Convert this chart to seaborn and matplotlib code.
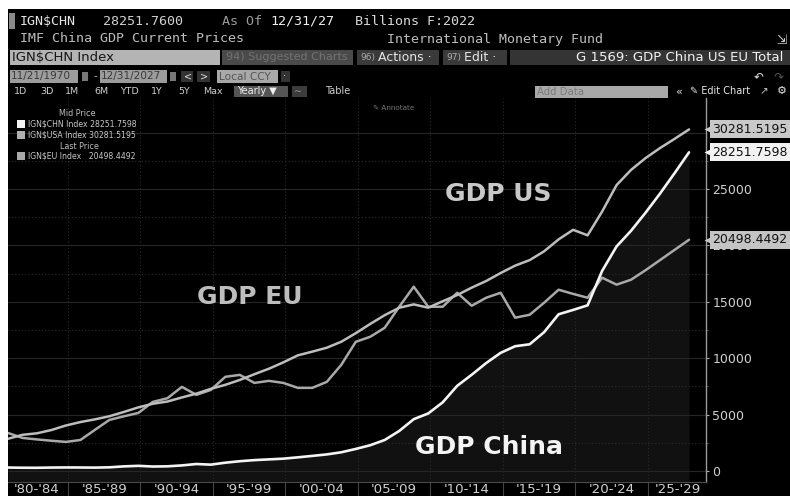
import matplotlib
matplotlib.use("Agg")
import matplotlib.pyplot as plt
import seaborn as sns
import numpy as np
import pandas as pd
from matplotlib.patches import Rectangle
from matplotlib.ticker import FixedLocator, NullFormatter

# ---------------- data (billions USD, IMF) ----------------
years = list(range(1980, 2028))
gdp_china = [306, 290, 285, 305, 315, 310, 300, 327, 410, 458,
             396, 415, 495, 620, 564, 737, 867, 965, 1030, 1094,
             1211, 1339, 1471, 1660, 1955, 2286, 2752, 3550, 4594, 5102,
             6087, 7552, 8532, 9570, 10475, 11062, 11233, 12310, 13895, 14280,
             14688, 17734, 19912, 21300, 22900, 24600, 26400, 28251.76]
gdp_us = [2857, 3207, 3343, 3634, 4037, 4339, 4580, 4855, 5236, 5642,
          5963, 6158, 6520, 6859, 7287, 7640, 8073, 8578, 9063, 9631,
          10251, 10582, 10929, 11457, 12217, 13039, 13816, 14474, 14770, 14478,
          15049, 15600, 16254, 16843, 17551, 18206, 18695, 19477, 20533, 21381,
          20894, 22996, 25347, 26695, 27741, 28632, 29443, 30281.52]
gdp_eu = [3370, 2930, 2800, 2680, 2580, 2750, 3650, 4530, 4850, 5150,
          6130, 6450, 7460, 6750, 7190, 8350, 8520, 7810, 7990, 7810,
          7370, 7370, 7900, 9410, 11450, 11900, 12700, 14560, 16340, 14560,
          14560, 15800, 14650, 15360, 15800, 13590, 13850, 14920, 16070, 15700,
          15360, 17140, 16520, 16960, 17800, 18700, 19600, 20498.45]
period_labels = ["'80-'84", "'85-'89", "'90-'94", "'95-'99", "'00-'04",
                 "'05-'09", "'10-'14", "'15-'19", "'20-'24", "'25-'29"]
ytick_values = [0, 5000, 10000, 15000, 20000, 25000]
last_china, last_us, last_eu = 28251.7598, 30281.5195, 20498.4492

df = pd.DataFrame({"year": years, "China": gdp_china, "US": gdp_us, "EU": gdp_eu})

# ---------------- figure ----------------
sns.set_theme(style="dark")
plt.rcParams['font.family'] = ['DejaVu Sans']
W, H = 790, 496
fig = plt.figure(figsize=(7.9, 4.96), dpi=100, facecolor='white')

def fbox(x0, y0, x1, y1, color, z=1):
    fig.add_artist(Rectangle((x0 / W, 1 - y1 / H), (x1 - x0) / W, (y1 - y0) / H,
                             transform=fig.transFigure, fc=color, ec='none', zorder=z))

def ftxt(x, y, s, size, color, family='DejaVu Sans', weight='normal', ha='left', z=3):
    fig.text(x / W, 1 - y / H, s, fontsize=size, color=color, family=family,
             weight=weight, ha=ha, va='center', zorder=z)

# black screen area with white margin at top/left
fbox(8, 9, 790, 496, 'black', z=-1)

# ---- header row 1 / 2 (monospace) ----
mono = 'DejaVu Sans Mono'
fbox(9, 13, 15, 29, '#8a8a8a')
ftxt(20, 21.5, r"IGN\$CHN", 9.6, '#e6e6e6', mono)
ftxt(103, 21.5, "28251.7600", 9.6, '#d0d0d0', mono)
ftxt(222, 21.5, "As Of", 9.6, '#9a9a9a', mono)
ftxt(270, 21.5, "12/31/27", 9.6, '#f0f0f0', mono)
ftxt(355, 21.5, "Billions F:2022", 9.6, '#d8d8d8', mono)
ftxt(20, 39, "IMF China GDP Current Prices", 9.6, '#bdbdbd', mono)
ftxt(387, 39, "International Monetary Fund", 9.6, '#bdbdbd', mono)
ftxt(776, 40, "⇲", 9, '#cfcfcf')

# ---- row 3 ----
fbox(10, 50, 220, 65, '#b4b4b4')
ftxt(12, 57.5, r"IGN\$CHN Index", 9.5, '#151515')
fbox(222, 50, 353, 65, '#4a4a4a')
ftxt(226, 57.5, "94) Suggested Charts", 8, '#727272')
fbox(357, 50, 439, 65, '#3a3a3a')
ftxt(360, 57.5, "96)", 6.5, '#aaaaaa')
ftxt(378, 57.5, "Actions ·", 9, '#e6e6e6')
fbox(443, 50, 507, 65, '#3a3a3a')
ftxt(446, 57.5, "97)", 6.5, '#aaaaaa')
ftxt(464, 57.5, "Edit ·", 9, '#e6e6e6')
fbox(510, 50, 790, 65, '#343434')
ftxt(783, 57.5, "G 1569: GDP China US EU Total", 9.5, '#f2f2f2', ha='right')

# ---- row 4 ----
fbox(10, 70, 78, 83, '#9c9c9c')
ftxt(11, 76.5, "11/21/1970", 7.6, '#3a3a3a')
fbox(82, 72, 88, 81, '#777777')
ftxt(94, 76.5, "-", 7.5, '#bbbbbb')
fbox(100, 70, 167, 83, '#9c9c9c')
ftxt(101, 76.5, "12/31/2027", 7.6, '#3a3a3a')
fbox(170, 72, 176, 81, '#777777')
fbox(181, 71, 193, 82, '#333333')
ftxt(184, 76.5, "<", 7, '#dddddd')
fbox(197, 71, 210, 82, '#333333')
ftxt(200, 76.5, ">", 7, '#dddddd')
fbox(217, 70, 278, 83, '#a8a8a8')
ftxt(219, 76.5, "Local CCY", 7.6, '#555555')
fbox(281, 71, 290, 82, '#333333')
ftxt(283.5, 76.5, "·", 7, '#dddddd')
ftxt(754, 76.5, "↶", 8.5, '#e6e6e6')
ftxt(773, 76.5, "↷", 8.5, '#555555')

# ---- row 5 ----
for xx, s in [(14, "1D"), (40, "3D"), (65, "1M"), (94, "6M"), (120, "YTD"),
              (151, "1Y"), (178, "5Y"), (203, "Max")]:
    ftxt(xx, 91.5, s, 6.8, '#cfcfcf')
fbox(234, 86, 288, 97, '#555555')
ftxt(237, 91.5, "Yearly ▼", 7, '#f0f0f0')
fbox(292, 86, 307, 97, '#3c3c3c')
ftxt(294, 91.5, "∼", 7, '#999999')
ftxt(325, 91.5, "Table", 7, '#d0d0d0')
fbox(535, 86, 668, 98, '#a9a9a9')
ftxt(537, 92, "Add Data", 7.3, '#7c7c7c')
ftxt(675, 91.5, "«", 8, '#e0e0e0')
ftxt(690, 91.5, "✎ Edit Chart", 7, '#e6e6e6')
ftxt(760, 91.5, "↗", 7.5, '#cccccc')
ftxt(777, 91.5, "⚙", 8, '#e6e6e6')

# ---------------- chart axes ----------------
ax_left, ax_right, ax_top, ax_bottom = 8, 706, 98, 482
ax = fig.add_axes([ax_left / W, 1 - ax_bottom / H, (ax_right - ax_left) / W, (ax_bottom - ax_top) / H])
ax.set_facecolor('black')

ax.fill_between(df["year"], df["China"], -5000, color='#111111', lw=0, zorder=0.3)
sns.lineplot(data=df, x="year", y="EU", ax=ax, color='#a9a9a9', lw=1.8, zorder=2)
sns.lineplot(data=df, x="year", y="US", ax=ax, color='#bdbdbd', lw=1.8, zorder=2.1)
sns.lineplot(data=df, x="year", y="China", ax=ax, color='#f4f4f4', lw=1.9, zorder=2.2)

px_per_year = 14.49
x0 = 1980.0
x1 = x0 + (ax_right - ax_left) / px_per_year
val_per_px = 25000 / 282.0
ax.set_xlim(x0, x1)
ax.set_ylim((471 - ax_bottom) * val_per_px, (471 - ax_top) * val_per_px)
ax.set_xlabel("")
ax.set_ylabel("")

# x axis: period separators (major) + centred period labels (minor)
seps = [1984.14 + 5 * k for k in range(9)]
centers = [1982.0] + [s + 2.5 for s in seps[:-1]] + [2026.2]
ax.xaxis.set_major_locator(FixedLocator(seps))
ax.xaxis.set_major_formatter(NullFormatter())
ax.xaxis.set_minor_locator(FixedLocator(centers))
ax.set_xticklabels(period_labels, minor=True)
ax.tick_params(axis='x', which='major', bottom=True, length=14, width=0.8, color='#444444', direction='out')
ax.tick_params(axis='x', which='minor', bottom=True, length=0, labelsize=9.6, labelcolor='#d0d0d0', pad=0.6)

# y axis on the right
ax.yaxis.tick_right()
ax.yaxis.set_major_locator(FixedLocator(ytick_values))
ax.set_yticklabels([str(v) for v in ytick_values])
ax.yaxis.set_minor_locator(FixedLocator([2500 + 5000 * k for k in range(6)]))
ax.tick_params(axis='y', which='major', right=True, left=False, length=2.5, width=0.8,
               color='#aaaaaa', labelsize=9, labelcolor='#d0d0d0', pad=2)
ax.tick_params(axis='y', which='minor', right=True, left=False, length=1.5, width=0.6, color='#666666')

# grids
ax.grid(False)
ax.yaxis.grid(True, which='major', color='#262626', lw=0.8, ls='-')
ax.yaxis.grid(True, which='minor', color='#2c2c2c', lw=0.8, ls=(0, (1, 2)))
ax.xaxis.grid(True, which='major', color='#2c2c2c', lw=0.8, ls=(0, (1, 2)))
ax.xaxis.grid(False, which='minor')
ax.axhline(30000, color='#262626', lw=0.8, zorder=0.5)

for side in ['top', 'left']:
    ax.spines[side].set_visible(False)
ax.spines['right'].set_color('#9a9a9a')
ax.spines['right'].set_linewidth(1.0)
ax.spines['bottom'].set_color('#4a4a4a')
ax.spines['bottom'].set_linewidth(0.8)

# series labels
ax.text(2010.16, 24556, "GDP US", fontsize=18, weight='bold', color='#c8c8c8', ha='left', va='center', zorder=3)
ax.text(1993.04, 15425, "GDP EU", fontsize=18, weight='bold', color='#bdbdbd', ha='left', va='center', zorder=3)
ax.text(2008.09, 2128, "GDP China", fontsize=18, weight='bold', color='#f4f4f4', ha='left', va='center', zorder=3)

# last value tags on the right axis
ytr = ax.get_yaxis_transform()
dx = 1.0 / (ax_right - ax_left)
for val, col in [(last_us, '#c9c9c9'), (last_china, '#f2f2f2'), (last_eu, '#c4c4c4')]:
    ax.plot([1 + 2.5 * dx], [val], marker='<', ms=6.5, color=col, mec='none',
            transform=ytr, clip_on=False, zorder=5)
    ax.text(1 + 6 * dx, val, f"{val:.4f}", transform=ytr, fontsize=9.0, color='#111111',
            ha='left', va='center', zorder=5, clip_on=False,
            bbox=dict(boxstyle='square,pad=0.2', fc=col, ec='none'))

# legend block (top-left)
ftxt(77, 113, "Mid Price", 5.8, '#bdbdbd', ha='center', z=6)
fbox(17, 120, 25, 127.5, '#f2f2f2', z=6)
ftxt(28, 124, r"IGN\$CHN Index 28251.7598", 5.6, '#c8c8c8', z=6)
fbox(17, 131, 25, 138.5, '#b0b0b0', z=6)
ftxt(28, 135, r"IGN\$USA Index 30281.5195", 5.6, '#c8c8c8', z=6)
ftxt(79, 146, "Last Price", 5.8, '#bdbdbd', ha='center', z=6)
fbox(17, 152, 25, 159.5, '#a8a8a8', z=6)
ftxt(28, 156, r"IGN\$EU Index   20498.4492", 5.6, '#c8c8c8', z=6)
ftxt(373, 107.5, "✎ Annotate", 5.2, '#777777', z=6)

fig.savefig("out.png", dpi=100, facecolor=fig.get_facecolor())
